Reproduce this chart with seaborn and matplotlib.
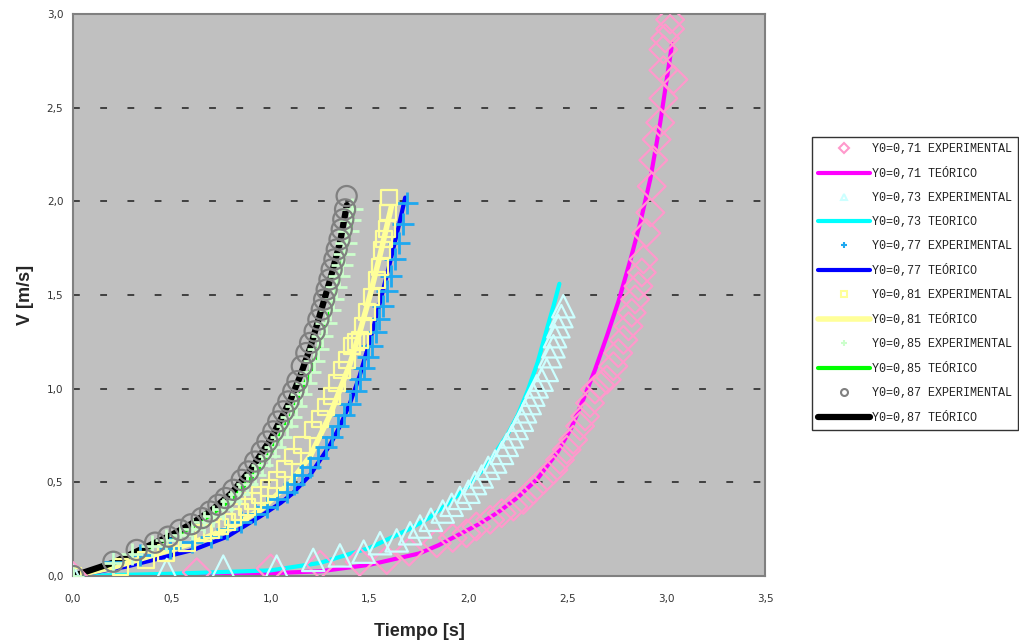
import numpy as np
import seaborn as sns
import matplotlib.pyplot as plt
from matplotlib.lines import Line2D

# ---- data ----
# Y0 = 0,71
t71_exp = [0.0, 0.626, 1.0, 1.25, 1.45, 1.587, 1.70, 1.84, 1.92, 1.99, 2.04, 2.11, 2.168, 2.227, 2.278,
           2.328, 2.379, 2.43, 2.463, 2.497, 2.53, 2.565, 2.59, 2.615, 2.64, 2.666, 2.70, 2.733, 2.758,
           2.784, 2.81, 2.826, 2.843, 2.86, 2.877, 2.885, 2.90, 2.92, 2.927, 2.935, 2.952, 2.97, 2.986,
           3.037, 2.986, 2.986, 2.995, 3.02, 3.02]
v71_exp = [0.0, 0.02, 0.04, 0.06, 0.076, 0.086, 0.13, 0.175, 0.203, 0.228, 0.264, 0.30, 0.335, 0.37, 0.406,
           0.46, 0.513, 0.567, 0.62, 0.674, 0.727, 0.80, 0.852, 0.923, 0.995, 1.02, 1.048, 1.12, 1.19,
           1.26, 1.333, 1.405, 1.476, 1.547, 1.62, 1.69, 1.83, 1.94, 2.08, 2.22, 2.33, 2.42, 2.55,
           2.65, 2.70, 2.81, 2.87, 2.92, 2.97]
t71_teo = [0.0, 0.5, 1.0, 1.25, 1.5, 1.75, 1.85, 1.95, 2.05, 2.15, 2.25, 2.35, 2.45, 2.52, 2.58, 2.64,
           2.7, 2.76, 2.82, 2.87, 2.92, 2.97, 3.03]
v71_teo = [0.0, 0.005, 0.015, 0.025, 0.06, 0.12, 0.165, 0.22, 0.275, 0.34, 0.42, 0.52, 0.66, 0.79, 0.94, 1.10,
           1.28, 1.47, 1.69, 1.89, 2.12, 2.42, 2.84]

# Y0 = 0,73
t73_exp = [0.0, 0.474, 0.76, 1.03, 1.215, 1.35, 1.47, 1.553, 1.637, 1.705, 1.755, 1.81, 1.87, 1.915, 1.957,
           2.0, 2.033, 2.067, 2.10, 2.135, 2.17, 2.194, 2.22, 2.244, 2.27, 2.286, 2.31, 2.328, 2.345, 2.37,
           2.396, 2.413, 2.43, 2.438, 2.455, 2.47, 2.48]
v73_exp = [0.0, 0.032, 0.05, 0.05, 0.086, 0.11, 0.13, 0.175, 0.19, 0.228, 0.264, 0.30, 0.344, 0.38, 0.417,
           0.45, 0.496, 0.531, 0.577, 0.611, 0.657, 0.70, 0.745, 0.79, 0.834, 0.879, 0.923, 0.968, 1.012, 1.048,
           1.10, 1.173, 1.226, 1.28, 1.333, 1.387, 1.44]
t73_teo = [0.0, 0.5, 1.0, 1.25, 1.5, 1.7, 1.8, 1.9, 2.0, 2.1, 2.2, 2.25, 2.3, 2.35, 2.4, 2.43, 2.46]
v73_teo = [0.0, 0.012, 0.03, 0.07, 0.15, 0.25, 0.31, 0.39, 0.48, 0.60, 0.76, 0.86, 0.99, 1.14, 1.33, 1.44, 1.56]

# Y0 = 0,77
t77_exp = [0.0, 0.20, 0.34, 0.49, 0.60, 0.70, 0.78, 0.85, 0.92, 0.98, 1.03, 1.08, 1.12, 1.16, 1.20, 1.24,
           1.28, 1.31, 1.34, 1.37, 1.40, 1.43, 1.45, 1.47, 1.49, 1.51, 1.53, 1.55, 1.57, 1.59, 1.61, 1.63,
           1.65, 1.67, 1.69]
v77_exp = [0.0, 0.075, 0.11, 0.15, 0.18, 0.21, 0.25, 0.29, 0.33, 0.37, 0.41, 0.45, 0.49, 0.54, 0.58, 0.63,
           0.69, 0.74, 0.80, 0.86, 0.92, 0.99, 1.05, 1.11, 1.17, 1.23, 1.30, 1.37, 1.44, 1.52, 1.60, 1.69,
           1.78, 1.88, 1.99]
t77_teo = [0.0, 0.27, 0.44, 0.61, 0.78, 0.95, 1.05, 1.11, 1.2, 1.3, 1.35, 1.4, 1.45, 1.5, 1.55, 1.6, 1.65, 1.68]
v77_teo = [0.0, 0.05, 0.095, 0.14, 0.21, 0.32, 0.39, 0.44, 0.54, 0.70, 0.80, 0.92, 1.07, 1.25, 1.45, 1.66,
           1.88, 2.02]

# Y0 = 0,81
t81_exp = [0.0, 0.24, 0.37, 0.47, 0.575, 0.66, 0.70, 0.744, 0.78, 0.81, 0.845, 0.879, 0.91, 0.946, 0.99,
           1.03, 1.07, 1.114, 1.16, 1.215, 1.25, 1.28, 1.31, 1.334, 1.359, 1.384, 1.41, 1.43, 1.452, 1.468,
           1.485, 1.51, 1.536, 1.553, 1.561, 1.575, 1.587, 1.594, 1.60]
v81_exp = [0.0, 0.05, 0.086, 0.121, 0.175, 0.228, 0.245, 0.264, 0.29, 0.317, 0.34, 0.37, 0.40, 0.433, 0.47,
           0.513, 0.57, 0.638, 0.70, 0.78, 0.84, 0.90, 0.96, 1.03, 1.10, 1.155, 1.226, 1.25, 1.26, 1.333,
           1.41, 1.49, 1.58, 1.65, 1.74, 1.80, 1.85, 1.94, 2.02]
t81_teo = [0.0, 0.2, 0.4, 0.6, 0.8, 0.95, 1.1, 1.2, 1.3, 1.4, 1.45, 1.5, 1.55, 1.61]
v81_teo = [0.0, 0.045, 0.11, 0.175, 0.26, 0.355, 0.5, 0.64, 0.86, 1.13, 1.30, 1.49, 1.70, 1.97]

# Y0 = 0,85
t85_exp = [0.0, 0.20, 0.30, 0.40, 0.47, 0.54, 0.60, 0.66, 0.71, 0.76, 0.80, 0.84, 0.88, 0.92, 0.955, 0.99,
           1.02, 1.05, 1.08, 1.105, 1.13, 1.155, 1.18, 1.20, 1.22, 1.24, 1.26, 1.28, 1.30, 1.315, 1.33,
           1.345, 1.36, 1.37, 1.38, 1.39, 1.40, 1.41]
v85_exp = [0.0, 0.07, 0.12, 0.16, 0.19, 0.22, 0.25, 0.29, 0.32, 0.36, 0.40, 0.44, 0.49, 0.54, 0.59, 0.64,
           0.69, 0.74, 0.80, 0.85, 0.91, 0.97, 1.03, 1.09, 1.15, 1.21, 1.28, 1.35, 1.42, 1.48, 1.54,
           1.60, 1.66, 1.72, 1.78, 1.84, 1.90, 1.96]
t85_teo = [0.0, 0.2, 0.4, 0.5, 0.6, 0.7, 0.8, 0.9, 1.0, 1.1, 1.2, 1.25, 1.3, 1.35, 1.4, 1.42]
v85_teo = [0.0, 0.065, 0.16, 0.21, 0.26, 0.33, 0.41, 0.52, 0.66, 0.85, 1.09, 1.24, 1.41, 1.61, 1.85, 1.97]

# Y0 = 0,87
t87_exp = [0.0, 0.204, 0.322, 0.415, 0.482, 0.541, 0.597, 0.651, 0.693, 0.735, 0.772, 0.811, 0.853, 0.887,
           0.921, 0.954, 0.983, 1.013, 1.038, 1.064, 1.089, 1.114, 1.135, 1.157, 1.18, 1.199, 1.222, 1.241,
           1.258, 1.27, 1.283, 1.297, 1.308, 1.322, 1.334, 1.348, 1.359, 1.367, 1.376, 1.384]
v87_exp = [0.0, 0.076, 0.139, 0.178, 0.21, 0.246, 0.276, 0.309, 0.344, 0.38, 0.416, 0.46, 0.513, 0.558,
           0.611, 0.665, 0.718, 0.772, 0.825, 0.879, 0.932, 0.986, 1.04, 1.12, 1.19, 1.244, 1.306, 1.369,
           1.422, 1.476, 1.529, 1.583, 1.636, 1.69, 1.743, 1.797, 1.85, 1.904, 1.957, 2.028]
t87_teo = [0.0, 0.2, 0.4, 0.5, 0.6, 0.7, 0.8, 0.9, 1.0, 1.1, 1.15, 1.2, 1.25, 1.3, 1.35, 1.385]
v87_teo = [0.0, 0.07, 0.17, 0.22, 0.28, 0.35, 0.44, 0.57, 0.73, 0.94, 1.07, 1.22, 1.40, 1.58, 1.78, 1.98]

exp_labels = ["Y0=0,71 EXPERIMENTAL", "Y0=0,73 EXPERIMENTAL", "Y0=0,77 EXPERIMENTAL",
              "Y0=0,81 EXPERIMENTAL", "Y0=0,85 EXPERIMENTAL", "Y0=0,87 EXPERIMENTAL"]
teo_labels = ["Y0=0,71 TEÓRICO", "Y0=0,73 TEORICO", "Y0=0,77 TEÓRICO",
              "Y0=0,81 TEÓRICO", "Y0=0,85 TEÓRICO", "Y0=0,87 TEÓRICO"]

xticks = [0.0, 0.5, 1.0, 1.5, 2.0, 2.5, 3.0, 3.5]
xtick_labels = ["0,0", "0,5", "1,0", "1,5", "2,0", "2,5", "3,0", "3,5"]
yticks = [0.0, 0.5, 1.0, 1.5, 2.0, 2.5, 3.0]
ytick_labels = ["0,0", "0,5", "1,0", "1,5", "2,0", "2,5", "3,0"]

# series styles: (t_exp, v_exp, marker, marker colour, marker size, t_teo, v_teo, line colour, line width)
series = [
    (t71_exp, v71_exp, "D", "#FF99CC", 200, t71_teo, v71_teo, "#FF00FF", 3.0),
    (t73_exp, v73_exp, "^", "#CCFFFF", 260, t73_teo, v73_teo, "#00FFFF", 3.0),
    (t77_exp, v77_exp, "+", "#1EA8F0", 230, t77_teo, v77_teo, "#0000FF", 3.0),
    (t81_exp, v81_exp, "s", "#FFFF99", 130, t81_teo, v81_teo, "#FFFF99", 4.0),
    (t85_exp, v85_exp, "+", "#CCFFCC", 230, t85_teo, v85_teo, "#00FF00", 3.0),
    (t87_exp, v87_exp, "o", "#808080", 210, t87_teo, v87_teo, "#000000", 4.5),
]

sns.set_style("white")

fig = plt.figure(figsize=(10.2, 6.44), dpi=100)
ax = fig.add_axes([0.0716, 0.1056, 0.6784, 0.8727])
ax.set_facecolor("#C0C0C0")

for t_e, v_e, mk, mc, ms, t_t, v_t, lc, lw in series:
    sns.lineplot(x=t_t, y=v_t, sort=False, estimator=None, color=lc, linewidth=lw,
                 ax=ax, legend=False, zorder=2)
for t_e, v_e, mk, mc, ms, t_t, v_t, lc, lw in series:
    if mk == "+":
        sns.scatterplot(x=t_e, y=v_e, marker=mk, s=ms, color=mc, linewidth=2.0,
                        ax=ax, legend=False, zorder=3)
    else:
        sns.scatterplot(x=t_e, y=v_e, marker=mk, s=ms, facecolor="none", edgecolor=mc,
                        linewidth=1.6, ax=ax, legend=False, zorder=3)

ax.set_xlim(0, 3.5)
ax.set_ylim(0, 3.0)
ax.set_xticks(xticks)
ax.set_xticklabels(xtick_labels)
ax.set_yticks(yticks)
ax.set_yticklabels(ytick_labels)
ax.tick_params(axis="both", labelsize=7.5, colors="#333333", length=3, width=1)
ax.tick_params(axis="x", pad=10)
ax.tick_params(axis="y", pad=4)
for lab in ax.get_xticklabels() + ax.get_yticklabels():
    lab.set_color("#333333")

ax.yaxis.grid(True, linestyle=(0, (3.5, 10.5)), color="#404040", linewidth=1.4)
ax.xaxis.grid(False)
ax.set_axisbelow(True)
for sp in ax.spines.values():
    sp.set_color("#808080")
    sp.set_linewidth(1.5)

ax.set_xlabel("Tiempo [s]", fontsize=13, fontweight="bold", family="Liberation Sans", labelpad=14)
ax.set_ylabel("V [m/s]", fontsize=13, fontweight="bold", family="Liberation Sans", labelpad=9)

# legend: experimental marker, then theoretical line, for each Y0
handles, labels = [], []
for (t_e, v_e, mk, mc, ms, t_t, v_t, lc, lw), le, lt in zip(series, exp_labels, teo_labels):
    handles.append(Line2D([], [], linestyle="none", marker=mk, markersize=5,
                          markerfacecolor="none", markeredgecolor=mc, markeredgewidth=1.5, color=mc))
    labels.append(le)
    handles.append(Line2D([], [], color=lc, linewidth=lw))
    labels.append(lt)

leg = fig.legend(handles, labels, loc="upper left", bbox_to_anchor=(812 / 1020, 1 - 137 / 644),
                 prop={"family": "Liberation Mono", "size": 8.5}, frameon=True, fancybox=False,
                 edgecolor="#000000", borderpad=0.5, borderaxespad=0, handlelength=4.4,
                 handletextpad=0.15, labelspacing=1.02)
leg.get_frame().set_linewidth(1.0)
for txt in leg.get_texts():
    txt.set_color("#222222")

fig.savefig("out.png", dpi=100)
